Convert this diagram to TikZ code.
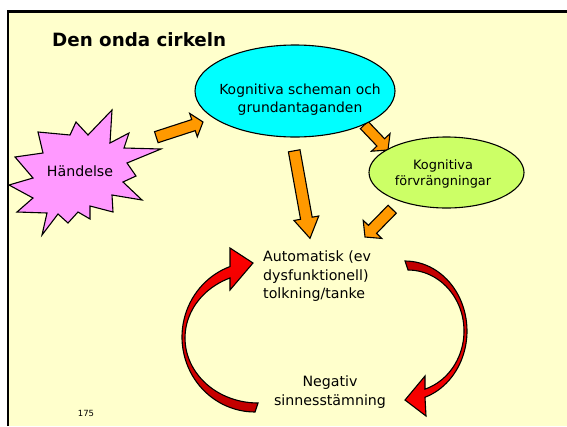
\documentclass[tikz,border=0pt]{standalone}
\usepackage{fontspec}
\setmainfont{DejaVu Sans}
\usetikzlibrary{calc,shapes.geometric}
\definecolor{bgyellow}{HTML}{FFFFCC}
\definecolor{orangefill}{HTML}{FF9900}
\definecolor{cyanfill}{HTML}{00FFFF}
\definecolor{limefill}{HTML}{CCFF66}
\definecolor{pinkfill}{HTML}{FF99FF}
\definecolor{darkredfill}{HTML}{C00000}
\newcommand\blockarr[5]{%
  \coordinate (bh) at ($(#2)!#5!(#1)$);
  \filldraw[orangearr] ($(#1)!#3!90:(#2)$) -- ($(bh)!#3!-90:(#1)$) -- ($(bh)!#4!-90:(#1)$) -- (#2)
    -- ($(bh)!#4!90:(#1)$) -- ($(bh)!#3!90:(#1)$) -- ($(#1)!#3!-90:(#2)$) -- cycle;}
\begin{document}
\begin{tikzpicture}[x=1pt,y=-1pt,
  orangearr/.style={fill=orangefill,draw=black,line width=1.1pt,line join=miter},
  redarr/.style={draw=black,line width=1.1pt},
  bubble/.style={ellipse,draw=black,line width=1.1pt,inner sep=0pt},
  bodytext/.style={font=\fontsize{14.2}{18.3}\selectfont,align=left,inner sep=0pt}]
\useasboundingbox (0,0) rectangle (567,426);
\fill[white] (0,0) rectangle (567,426);
\fill[bgyellow] (7.8,11.3) rectangle (567,426);
\draw[line width=2.5pt] (7.8,426) -- (7.8,11.3) -- (567,11.3);

% title
\node[anchor=base west,inner sep=0pt,font=\fontsize{18.3}{22}\selectfont\bfseries] (title) at (52,46) {Den onda cirkeln};

% arrow end coordinates
\coordinate (a1s) at (156.3,137.2); \coordinate (a1e) at (203,122);
\coordinate (a2s) at (364.2,125);   \coordinate (a2e) at (388,150);
\coordinate (a3s) at (294.2,150.8); \coordinate (a3e) at (310,238.3);
\coordinate (a4s) at (392.2,209.2); \coordinate (a4e) at (365,237);
\blockarr{a1s}{a1e}{5.8pt}{12.3pt}{10pt}
\blockarr{a2s}{a2e}{5.3pt}{12.8pt}{10.5pt}
\blockarr{a3s}{a3e}{5.9pt}{12.6pt}{20.4pt}
\blockarr{a4s}{a4e}{5.7pt}{13pt}{10.7pt}

% ellipses
\node[bubble,fill=cyanfill,minimum width=200pt,minimum height=92pt] (schema) at (295,91) {};
\node[bubble,fill=limefill,minimum width=155pt,minimum height=71pt] (forvr) at (446.5,172.5) {};
\node[anchor=base,align=center,inner sep=0pt,font=\fontsize{13.9}{18}\selectfont] (schematext) at (300,112) {Kognitiva scheman och\\grundantaganden};
\node[anchor=base,align=center,inner sep=0pt,font=\fontsize{12.9}{15.5}\selectfont] (forvrtext) at (443,185) {Kognitiva\\förvrängningar};

% star
\filldraw[fill=pinkfill,draw=black,line width=1.1pt,line join=miter]
 (112,110) -- (110,143) -- (129,133) -- (124,148) -- (161,149) -- (127,163) -- (136,176) -- (123,182)
 -- (142,200) -- (112,195) -- (113,212) -- (90,206) -- (90,219) -- (78,212) -- (68,223) -- (58,214)
 -- (42,235) -- (47,213) -- (17,212) -- (33,198) -- (9,185) -- (33,178) -- (15,157) -- (43,153)
 -- (38,132) -- (70,135) -- (76,122) -- (88,135) -- cycle;
\node[anchor=base,inner sep=0pt,font=\fontsize{14.2}{17}\selectfont] (event) at (80,176.5) {Händelse};

% red curved arrows
\draw[redarr,top color=red,bottom color=darkredfill]
  plot[domain=90:250,samples=50] ({255+73*cos(\x)},{337+75*sin(\x)})
  -- (230,248) -- (253,263) -- (230,290)
  -- plot[domain=247.4:90,samples=50] ({258+73*cos(\x)},{338+65*sin(\x)}) -- cycle;
\draw[redarr,top color=darkredfill,bottom color=red]
  plot[domain=-90:71.2,samples=50] ({405+62*cos(\x)},{331+70*sin(\x)})
  -- (426,416) -- (405,400) -- (425,376)
  -- plot[domain=72.3:-90,samples=50] ({408+56*cos(\x)},{331+61*sin(\x)}) -- cycle;

% texts
\node[bodytext,anchor=base west] (auto) at (263,298.3) {Automatisk (ev\\dysfunktionell)\\tolkning/tanke};
\node[bodytext,anchor=base,align=center] (mood) at (330,405) {Negativ\\sinnesstämning};
\node[anchor=base,inner sep=0pt,font=\fontsize{8.5}{10}\selectfont] (pagenum) at (86,416.7) {175};
\end{tikzpicture}
\end{document}
